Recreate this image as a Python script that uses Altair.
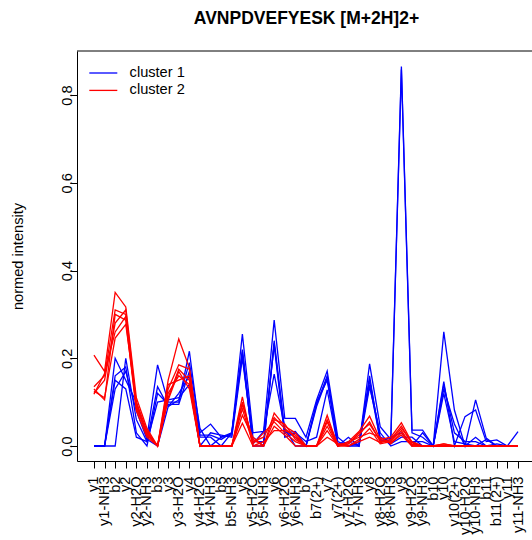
import altair as alt
import pandas as pd

# ---- data -------------------------------------------------------------
ions = ["y1", "y1-NH3", "b2", "y2", "y2-H2O", "y2-NH3", "b3", "y3", "y3-H2O", "y4",
        "y4-H2O", "y4-NH3", "b5", "b5-NH3", "y5", "y5-H2O", "y5-NH3", "y6", "y6-H2O", "y6-NH3",
        "b7", "b7(2+)", "y7", "y7(2+)", "y7-H2O", "y7-NH3", "y8", "y8-H2O", "y8-NH3", "y9",
        "y9-H2O", "y9-NH3", "b10", "y10", "y10(2+)", "y10-H2O", "y10-NH3", "b11", "b11(2+)", "y11",
        "y11-NH3"]

c1_a = [0, 0, 0.20, 0.15, 0.10, 0.02, 0.185, 0.10, 0.10, 0.216,
        0.03, 0.05, 0.02, 0.03, 0.255, 0.03, 0.033, 0.287, 0.063, 0.063,
        0.02, 0.105, 0.171, 0.02, 0.0, 0.0, 0.187, 0.044, 0.015, 0.865,
        0.036, 0.036, 0.0, 0.26, 0.082, 0.0, 0.105, 0.018, 0.0, 0.0, 0.033]
c1_b = [0, 0, 0.0, 0.20, 0.06, 0.01, 0.135, 0.09, 0.105, 0.19,
        0.04, 0.0, 0.02, 0.025, 0.22, 0.02, 0.0, 0.234, 0.03, 0.033,
        0.0, 0.095, 0.16, 0.0, 0.02, 0.0, 0.15, 0.02, 0.01, 0.858,
        0.03, 0.02, 0.0, 0.147, 0.0, 0.067, 0.082, 0.01, 0.014, 0.0, 0.0]
c1_c = [0, 0, 0.16, 0.18, 0.03, 0.0, 0.12, 0.095, 0.095, 0.17,
        0.02, 0.02, 0.0, 0.03, 0.21, 0.005, 0.033, 0.164, 0.04, 0.0,
        0.0, 0.09, 0.155, 0.01, 0.0, 0.01, 0.14, 0.015, 0.005, 0.02,
        0.02, 0.0, 0.0, 0.14, 0.03, 0.01, 0.01, 0.0, 0.0, 0.0, 0.0]
c1_d = [0, 0, 0.15, 0.13, 0.02, 0.01, 0.10, 0.105, 0.11, 0.14,
        0.0, 0.03, 0.025, 0.02, 0.20, 0.01, 0.01, 0.23, 0.02, 0.03,
        0.01, 0.02, 0.128, 0.0, 0.01, 0.0, 0.135, 0.03, 0.0, 0.01,
        0.01, 0.01, 0.0, 0.12, 0.01, 0.005, 0.0, 0.015, 0.0, 0.0, 0.0]
c1_e = [0, 0, 0.13, 0.17, 0.08, 0.015, 0.0, 0.09, 0.12, 0.16,
        0.025, 0.025, 0.015, 0.03, 0.215, 0.0, 0.0, 0.24, 0.035, 0.02,
        0.0, 0.10, 0.15, 0.005, 0.0, 0.005, 0.16, 0.01, 0.02, 0.03,
        0.0, 0.03, 0.0, 0.13, 0.05, 0.0, 0.02, 0.0, 0.005, 0.0, 0.0]

c2_a = [0.207, 0.17, 0.35, 0.317, 0.11, 0.04, 0.0, 0.15, 0.244, 0.178,
        0, 0, 0, 0, 0.112, 0.0, 0.0, 0.075, 0.045, 0.03,
        0, 0, 0.07, 0.0, 0.01, 0.033, 0.068, 0.015, 0.02, 0.053,
        0.008, 0, 0, 0.005, 0, 0, 0, 0, 0, 0, 0]
c2_b = [0.135, 0.16, 0.31, 0.30, 0.09, 0.03, 0.0, 0.13, 0.185, 0.175,
        0, 0, 0, 0, 0.10, 0.01, 0.02, 0.065, 0.04, 0.02,
        0, 0, 0.06, 0.005, 0.005, 0.025, 0.055, 0.01, 0.015, 0.045,
        0.005, 0, 0, 0, 0, 0, 0, 0, 0, 0, 0]
c2_c = [0.13, 0.105, 0.30, 0.287, 0.08, 0.02, 0.0, 0.11, 0.175, 0.15,
        0, 0, 0, 0, 0.085, 0.005, 0.03, 0.055, 0.03, 0.01,
        0, 0, 0.045, 0.0, 0.0, 0.015, 0.04, 0.005, 0.01, 0.035,
        0, 0, 0, 0.005, 0, 0, 0, 0, 0, 0, 0]
c2_d = [0.125, 0.11, 0.246, 0.277, 0.10, 0.035, 0.0, 0.12, 0.16, 0.14,
        0, 0, 0, 0, 0.07, 0.02, 0.0, 0.045, 0.025, 0.0,
        0, 0, 0.035, 0.0, 0.008, 0.02, 0.03, 0.02, 0.005, 0.03,
        0.003, 0, 0, 0, 0, 0, 0, 0, 0, 0, 0]
c2_e = [0.12, 0.15, 0.28, 0.31, 0.095, 0.025, 0.0, 0.14, 0.15, 0.16,
        0, 0, 0, 0, 0.052, 0.0, 0.01, 0.035, 0.035, 0.025,
        0, 0, 0.02, 0.005, 0.0, 0.01, 0.02, 0.008, 0.012, 0.04,
        0.01, 0, 0, 0, 0, 0, 0, 0, 0, 0, 0]
c2_f = [0.118, 0.165, 0.26, 0.295, 0.085, 0.03, 0.0, 0.105, 0.17, 0.13,
        0, 0, 0, 0, 0.095, 0.015, 0.0, 0.06, 0.05, 0.015,
        0, 0, 0.055, 0, 0.005, 0.03, 0.05, 0.012, 0.008, 0.025,
        0, 0, 0, 0, 0, 0, 0, 0, 0, 0, 0]

cluster_names = ["cluster 1", "cluster 2"]
cluster_colors = ["#0000FF", "#FF0000"]
series = [("c1_a", "cluster 1", c1_a), ("c1_b", "cluster 1", c1_b), ("c1_c", "cluster 1", c1_c),
          ("c1_d", "cluster 1", c1_d), ("c1_e", "cluster 1", c1_e),
          ("c2_a", "cluster 2", c2_a), ("c2_b", "cluster 2", c2_b), ("c2_c", "cluster 2", c2_c),
          ("c2_d", "cluster 2", c2_d), ("c2_e", "cluster 2", c2_e), ("c2_f", "cluster 2", c2_f)]

rows = []
for name, cl, vals in series:
    for i, v in enumerate(vals):
        rows.append({"series": name, "cluster": cl, "pos": i, "ion": ions[i], "intensity": v})
df = pd.DataFrame(rows)

# ---- chart ------------------------------------------------------------
FONT = "Liberation Sans"
FS = 14.6
W, H = 455, 410

label_expr = "[" + ",".join("'" + s + "'" for s in ions) + "][datum.value]"

x_enc = alt.X("pos:Q",
              scale=alt.Scale(domain=[-1.6, 41.32], nice=False, zero=False),
              axis=alt.Axis(values=list(range(len(ions))), labelExpr=label_expr,
                            labelAngle=270, labelAlign="right", labelBaseline="middle",
                            labelOverlap=False, labelFlush=False, labelBound=False,
                            tickSize=7, labelPadding=8, grid=False, title=None))
y_enc = alt.Y("intensity:Q",
              scale=alt.Scale(domain=[-0.0342, 0.9003], nice=False, zero=False),
              axis=alt.Axis(values=[0, 0.2, 0.4, 0.6, 0.8], format=".1f",
                            labelAngle=270, labelAlign="center", labelBaseline="alphabetic",
                            tickSize=7, labelPadding=-1, grid=False,
                            title="normed intensity", titleFontWeight="normal",
                            titleX=-59, titleY=205, titleAngle=270,
                            titleAlign="center", titleBaseline="middle"))
color_enc = alt.Color("cluster:N",
                      scale=alt.Scale(domain=cluster_names, range=cluster_colors),
                      legend=alt.Legend(title=None, orient="none", legendX=19, legendY=14.7,
                                        symbolType="M-3.5,0H3.5", symbolSize=64,
                                        symbolStrokeWidth=1.3, labelOffset=19,
                                        rowPadding=2.4, padding=0, labelFontSize=FS,
                                        labelFont=FONT, labelColor="black"))

base = alt.Chart(df)
blue = base.transform_filter(alt.datum.cluster == "cluster 1").mark_line(strokeWidth=1.3).encode(
    x=x_enc, y=y_enc, color=color_enc, detail="series:N")
red = base.transform_filter(alt.datum.cluster == "cluster 2").mark_line(strokeWidth=1.3).encode(
    x=x_enc, y=y_enc, color=color_enc, detail="series:N")
top_rule = alt.Chart(pd.DataFrame({"k": [0]})).mark_rule(color="black", strokeWidth=1).encode(
    x=alt.value(0), x2=alt.value(W), y=alt.value(0))

chart = alt.layer(blue, red, top_rule).properties(
    width=W, height=H,
    background="white",
    padding={"left": 77, "top": 51, "right": 0, "bottom": 79},
    autosize=alt.AutoSizeParams(type="none"),
    title=alt.Title("AVNPDVEFYESK [M+2H]2+", font=FONT, fontSize=17.5, fontWeight="bold",
                    anchor="middle", offset=23, color="black", dx=2),
).configure_view(stroke=None).configure_axis(
    domainColor="black", tickColor="black", labelColor="black", titleColor="black",
    labelFont=FONT, titleFont=FONT, labelFontSize=FS, titleFontSize=FS,
    domainWidth=1, tickWidth=1,
)

chart.save("out.html", embed_options={"renderer": "svg", "actions": False})
